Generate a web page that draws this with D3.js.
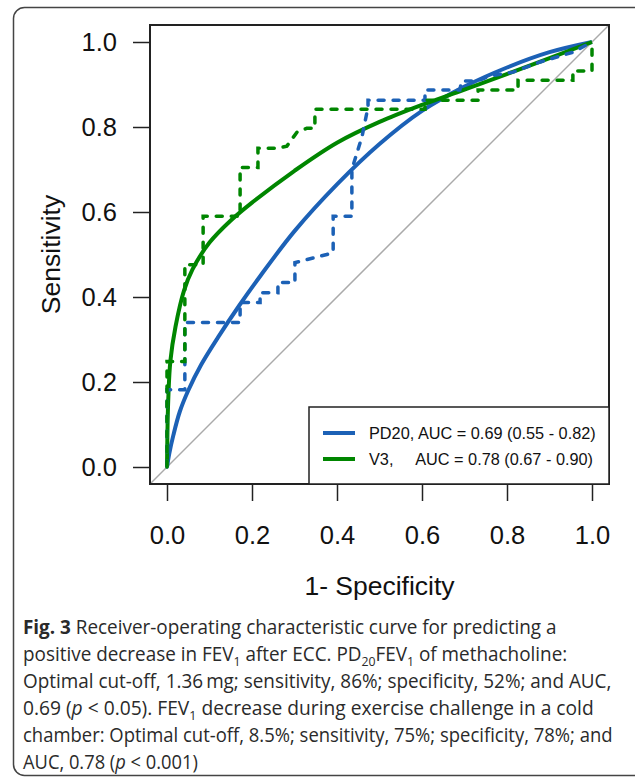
<!DOCTYPE html>
<html>
<head>
<meta charset="utf-8">
<script src="https://cdn.jsdelivr.net/npm/d3@7"></script>
<style>
  body { margin: 0; background: #fff; }
</style>
</head>
<body>
<div id="chart"></div>
<script>
// axis ticks (both axes)
var tickValues = [0, 0.2, 0.4, 0.6, 0.8, 1.0];

// smoothed ROC curves
var pd20SmoothFpr = [0, 0.005, 0.015, 0.03, 0.05, 0.08, 0.12, 0.17, 0.22, 0.3, 0.4, 0.5, 0.6, 0.7, 0.8, 0.9, 1];
var pd20SmoothTpr = [0, 0.03, 0.075, 0.13, 0.18, 0.24, 0.305, 0.38, 0.45, 0.555, 0.665, 0.76, 0.838, 0.895, 0.94, 0.976, 1];

var v3SmoothFpr = [0, 0.001, 0.003, 0.008, 0.02, 0.04, 0.06, 0.1, 0.15, 0.2, 0.3, 0.4, 0.5, 0.6, 0.7, 0.85, 1];
var v3SmoothTpr = [0, 0.08, 0.16, 0.25, 0.33, 0.415, 0.465, 0.528, 0.58, 0.622, 0.697, 0.763, 0.812, 0.852, 0.888, 0.943, 1];

// empirical ROC curves (dashed)
var pd20EmpFpr = [0, 0, 0.042, 0.042, 0.172, 0.172, 0.219, 0.219, 0.261, 0.261, 0.301, 0.301, 0.376, 0.391, 0.391, 0.435, 0.435, 0.459, 0.473, 0.473, 0.607, 0.607, 0.689, 0.693, 0.729, 0.76, 0.814, 0.878, 0.955, 1];
var pd20EmpTpr = [0, 0.182, 0.182, 0.340, 0.340, 0.387, 0.387, 0.410, 0.410, 0.434, 0.434, 0.481, 0.500, 0.505, 0.59, 0.59, 0.70, 0.778, 0.847, 0.863, 0.863, 0.887, 0.887, 0.908, 0.908, 0.92, 0.929, 0.953, 0.976, 1];

var v3EmpFpr = [0, 0, 0.042, 0.042, 0.085, 0.085, 0.172, 0.172, 0.214, 0.214, 0.261, 0.282, 0.306, 0.329, 0.348, 0.348, 0.607, 0.607, 0.732, 0.732, 0.826, 0.826, 0.955, 0.955, 1, 1];
var v3EmpTpr = [0, 0.248, 0.248, 0.476, 0.476, 0.59, 0.59, 0.705, 0.705, 0.75, 0.75, 0.755, 0.788, 0.797, 0.797, 0.842, 0.842, 0.863, 0.863, 0.887, 0.887, 0.910, 0.910, 0.932, 0.932, 1];

var legendLabels = ["PD20, AUC = 0.69 (0.55 - 0.82)", "V3,     AUC = 0.78 (0.67 - 0.90)"];
var seriesColors = ["#1c61b6", "#008600"];

var captionLines = [
  [{t: "Fig. 3", b: true}, {t: " Receiver-operating characteristic curve for predicting a"}],
  [{t: "positive decrease in FEV"}, {t: "1", sub: true}, {t: " after ECC. PD"}, {t: "20", sub: true}, {t: "FEV"}, {t: "1", sub: true}, {t: " of methacholine:"}],
  [{t: "Optimal cut-off, 1.36\u2009mg; sensitivity, 86%; specificity, 52%; and AUC,"}],
  [{t: "0.69 ("}, {t: "p", i: true}, {t: " < 0.05). FEV"}, {t: "1", sub: true}, {t: " decrease during exercise challenge in a cold"}],
  [{t: "chamber: Optimal cut-off, 8.5%; sensitivity, 75%; specificity, 78%; and"}],
  [{t: "AUC, 0.78 ("}, {t: "p", i: true}, {t: " < 0.001)"}]
];
var captionWidths = [534, 545, 589, 571, 590, 175];

var svgWidth = 635;
var svgHeight = 778;
var box = {left: 150, right: 609, top: 25, bottom: 484};
var plotFont = "'Liberation Sans', Arial, sans-serif";

var svg = d3.select("#chart")
  .append("svg")
  .attr("width", svgWidth)
  .attr("height", svgHeight);

// outer figure frame (runs off the right edge)
svg.append("rect")
  .attr("x", 13.5).attr("y", 7.5)
  .attr("width", 720).attr("height", 768)
  .attr("rx", 11)
  .attr("fill", "none")
  .attr("stroke", "#444")
  .attr("stroke-width", 1.5);

var x = d3.scaleLinear().domain([-0.04, 1.04]).range([box.left, box.right]);
var y = d3.scaleLinear().domain([-0.04, 1.04]).range([box.bottom, box.top]);

function pairs(a, b) {
  return a.map(function(v, i) { return [v, b[i]]; });
}

// chance line across the whole plot region
svg.append("line")
  .attr("x1", x(x.domain()[0])).attr("y1", y(y.domain()[0]))
  .attr("x2", x(x.domain()[1])).attr("y2", y(y.domain()[1]))
  .attr("stroke", "#aaa")
  .attr("stroke-width", 1.5);

var smoothLine = d3.line()
  .x(d => x(d[0]))
  .y(d => y(d[1]))
  .curve(d3.curveCatmullRom.alpha(0.5));

var stepLine = d3.line()
  .x(d => x(d[0]))
  .y(d => y(d[1]));

svg.append("path")
  .datum(pairs(pd20SmoothFpr, pd20SmoothTpr))
  .attr("d", smoothLine)
  .attr("fill", "none")
  .attr("stroke", seriesColors[0])
  .attr("stroke-width", 4);

svg.append("path")
  .datum(pairs(v3SmoothFpr, v3SmoothTpr))
  .attr("d", smoothLine)
  .attr("fill", "none")
  .attr("stroke", seriesColors[1])
  .attr("stroke-width", 4);

svg.append("path")
  .datum(pairs(pd20EmpFpr, pd20EmpTpr))
  .attr("d", stepLine)
  .attr("fill", "none")
  .attr("stroke", seriesColors[0])
  .attr("stroke-width", 3.5)
  .attr("stroke-linecap", "round")
  .attr("stroke-dasharray", "6,9");

svg.append("path")
  .datum(pairs(v3EmpFpr, v3EmpTpr))
  .attr("d", stepLine)
  .attr("fill", "none")
  .attr("stroke", seriesColors[1])
  .attr("stroke-width", 3.5)
  .attr("stroke-linecap", "round")
  .attr("stroke-dasharray", "6,9");

// plot box
svg.append("rect")
  .attr("x", box.left).attr("y", box.top)
  .attr("width", box.right - box.left)
  .attr("height", box.bottom - box.top)
  .attr("fill", "none")
  .attr("stroke", "#222")
  .attr("stroke-width", 2);

// axes
var bottomAxis = d3.axisBottom(x)
  .tickValues(tickValues)
  .tickFormat(d3.format(".1f"))
  .tickSize(17)
  .tickPadding(25);
var leftAxis = d3.axisLeft(y)
  .tickValues(tickValues)
  .tickFormat(d3.format(".1f"))
  .tickSize(17)
  .tickPadding(16);

var xAxis = svg.append("g")
  .attr("transform", `translate(0, ${box.bottom})`)
  .call(bottomAxis);
var yAxis = svg.append("g")
  .attr("transform", `translate(${box.left}, 0)`)
  .call(leftAxis);

[xAxis, yAxis].forEach(function(ax) {
  ax.attr("font-family", plotFont).attr("font-size", 25.5);
  ax.select(".domain").remove();
  ax.selectAll("line").attr("stroke", "#222").attr("stroke-width", 1.5);
  ax.selectAll("text").attr("fill", "#111");
});

// axis titles
svg.append("text")
  .attr("x", (x(0) + x(1)) / 2)
  .attr("y", 595)
  .attr("text-anchor", "middle")
  .attr("font-family", plotFont)
  .attr("font-size", 26.5)
  .attr("fill", "#111")
  .text("1- Specificity");

svg.append("text")
  .attr("transform", `translate(60, ${(y(0) + y(1)) / 2}) rotate(-90)`)
  .attr("text-anchor", "middle")
  .attr("font-family", plotFont)
  .attr("font-size", 26.5)
  .attr("fill", "#111")
  .text("Sensitivity");

// legend
var legend = svg.append("g");
legend.append("rect")
  .attr("x", 309).attr("y", 407)
  .attr("width", box.right - 309)
  .attr("height", box.bottom - 407)
  .attr("fill", "#fff")
  .attr("stroke", "#222")
  .attr("stroke-width", 1.5);

legendLabels.forEach(function(lab, i) {
  var ly = 433 + i * 26;
  legend.append("line")
    .attr("x1", 323).attr("x2", 355)
    .attr("y1", ly).attr("y2", ly)
    .attr("stroke", seriesColors[i])
    .attr("stroke-width", 4);
  legend.append("text")
    .attr("x", 369)
    .attr("y", ly + 6)
    .attr("font-family", plotFont)
    .attr("font-size", 16.3)
    .attr("fill", "#111")
    .style("white-space", "pre")
    .text(lab);
});

// caption
var cap = svg.append("g");
captionLines.forEach(function(segs, i) {
  var baseY = 634 + i * 27;
  var t = cap.append("text")
    .attr("font-family", "'Open Sans', sans-serif")
    .attr("font-size", 20)
    .attr("fill", "#2a2a2a")
    .style("white-space", "pre");
  var shifted = false;
  segs.forEach(function(s) {
    var ts = t.append("tspan").text(s.t);
    if (s.b) ts.attr("font-weight", "bold");
    if (s.i) ts.attr("font-style", "italic");
    if (s.sub) {
      ts.attr("font-size", 13).attr("dy", 5);
      shifted = true;
    } else if (shifted) {
      ts.attr("dy", -5);
      shifted = false;
    }
  });
  var natural = t.node().getComputedTextLength();
  var sx = captionWidths[i] / natural;
  t.attr("transform", `translate(23, ${baseY}) scale(${sx}, 1)`);
});
</script>
</body>
</html>
